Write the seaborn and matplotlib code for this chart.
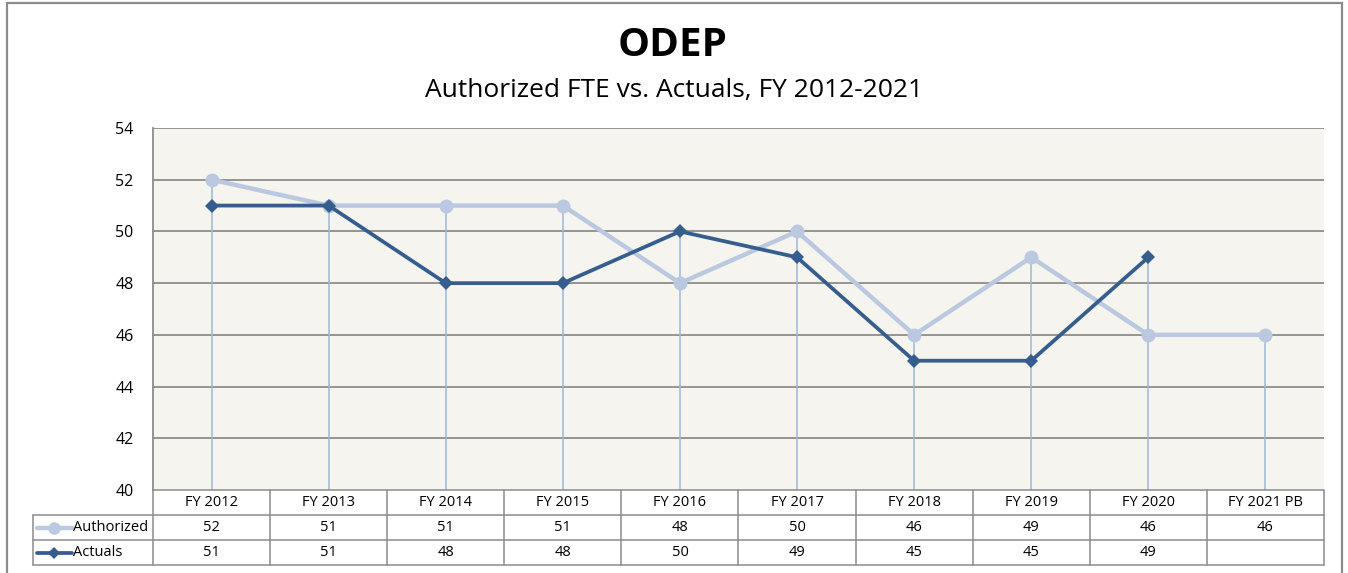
import numpy as np
import pandas as pd
import matplotlib
matplotlib.use("Agg")
import matplotlib.pyplot as plt
import seaborn as sns
from matplotlib.patches import Rectangle
from matplotlib.lines import Line2D

# chart data
years = ["FY 2012", "FY 2013", "FY 2014", "FY 2015", "FY 2016",
         "FY 2017", "FY 2018", "FY 2019", "FY 2020", "FY 2021 PB"]
authorized = [52, 51, 51, 51, 48, 50, 46, 49, 46, 46]
actuals = [51, 51, 48, 48, 50, 49, 45, 45, 49, np.nan]
series_names = ["Authorized", "Actuals"]
y_ticks = [40, 42, 44, 46, 48, 50, 52, 54]

AUTH_COLOR = "#BAC8E0"
ACT_COLOR = "#355D8D"
DROP_COLOR = "#9DB8D8"
GRID_COLOR = "#8C8C8C"
BG_COLOR = "#F5F4EF"

sns.set_theme(style="white")
plt.rcParams["font.family"] = ["Open Sans", "DejaVu Sans"]
plt.rcParams["text.color"] = "black"
plt.rcParams["ytick.color"] = "black"
plt.rcParams["xtick.color"] = "black"

W, H = 1348, 573
fig = plt.figure(figsize=(W / 100, H / 100), dpi=100)
fig.patch.set_facecolor("white")

# outer chart border
fig.patches.append(Rectangle((7 / W, -0.05), (1342 - 7) / W, 1.05 - 3 / H,
                             transform=fig.transFigure, fill=False,
                             edgecolor=GRID_COLOR, lw=1.6))

# plot area in pixel terms
px_left, px_right, px_top, px_bottom = 153, 1324, 128, 490
ax = fig.add_axes([px_left / W, 1 - px_bottom / H,
                   (px_right - px_left) / W, (px_bottom - px_top) / H])
ax.set_facecolor(BG_COLOR)

df = pd.DataFrame({"year": years, "Authorized": authorized, "Actuals": actuals})
xs = np.arange(len(years))
df["x"] = xs

# drop lines from the higher point to the floor
tops = np.nanmax(np.vstack([authorized, actuals]), axis=0)
ax.vlines(xs, 40, tops, color=DROP_COLOR, lw=1.1, zorder=2)

sns.lineplot(data=df, x="x", y="Authorized", ax=ax, color=AUTH_COLOR,
             lw=3.2, marker="o", markersize=10, markeredgewidth=0,
             zorder=3, legend=False)
sns.lineplot(data=df.dropna(), x="x", y="Actuals", ax=ax, color=ACT_COLOR,
             lw=2.7, marker="D", markersize=7, markeredgewidth=0,
             zorder=4, legend=False)

ax.set_xlim(-0.5, len(years) - 0.5)
ax.set_ylim(40, 54)
ax.set_yticks(y_ticks)
ax.set_yticklabels([str(v) for v in y_ticks], fontsize=11.5)
ax.tick_params(axis="y", length=0, pad=14)
ax.set_xticks([])
ax.set_xlabel("")
ax.set_ylabel("")
for v in y_ticks[1:]:
    ax.axhline(v, color=GRID_COLOR, lw=1.3, zorder=1)
for side in ["top", "right", "bottom"]:
    ax.spines[side].set_visible(False)
ax.spines["left"].set_color(GRID_COLOR)
ax.spines["left"].set_linewidth(1.3)

# titles
fig.text(673 / W, 1 - 45 / H, "ODEP",
         ha="center", va="center", fontsize=29, fontweight="bold")
fig.text(674 / W, 1 - 91 / H,
         "Authorized FTE vs. Actuals, FY 2012-2021",
         ha="center", va="center", fontsize=19)

# data table below the plot
label_w = 120 / 117.1
tab_left, tab_bottom = 33, 565
tax = fig.add_axes([tab_left / W, 1 - tab_bottom / H,
                    (px_right - tab_left) / W, (tab_bottom - px_bottom) / H])
x0 = -0.5 - label_w
x1 = len(years) - 0.5
tax.set_xlim(x0, x1)
tax.set_ylim(3, 0)
tax.axis("off")

lw_t = 1.1
tax.plot([-0.5, x1], [0, 0], color=GRID_COLOR, lw=lw_t, clip_on=False)
for r in [1, 2, 3]:
    tax.plot([x0, x1], [r, r], color=GRID_COLOR, lw=lw_t, clip_on=False)
for c in range(len(years) + 1):
    tax.plot([c - 0.5, c - 0.5], [0, 3], color=GRID_COLOR, lw=lw_t, clip_on=False)
tax.plot([x0, x0], [1, 3], color=GRID_COLOR, lw=lw_t, clip_on=False)

for i, name in enumerate(years):
    tax.text(i, 0.5, name, ha="center", va="center", fontsize=10.5)

rows = [authorized, actuals]
styles = [(AUTH_COLOR, "o", 3.2, 9), (ACT_COLOR, "D", 2.7, 6.5)]
for r, (vals, name, st) in enumerate(zip(rows, series_names, styles)):
    yc = r + 1.5
    color, mk, lw, ms = st
    kx0 = x0 + 0.035
    kx1 = x0 + 0.33
    tax.add_line(Line2D([kx0, kx1], [yc, yc], color=color, lw=lw, clip_on=False))
    tax.add_line(Line2D([(kx0 + kx1) / 2], [yc], color=color, marker=mk,
                        markersize=ms, markeredgewidth=0, lw=0, clip_on=False))
    tax.text(kx1 + 0.01, yc, name, ha="left", va="center", fontsize=10.5)
    for i, v in enumerate(vals):
        if not np.isnan(v):
            tax.text(i, yc, f"{int(v)}", ha="center", va="center", fontsize=10.5)

fig.savefig("out.png", dpi=100)
